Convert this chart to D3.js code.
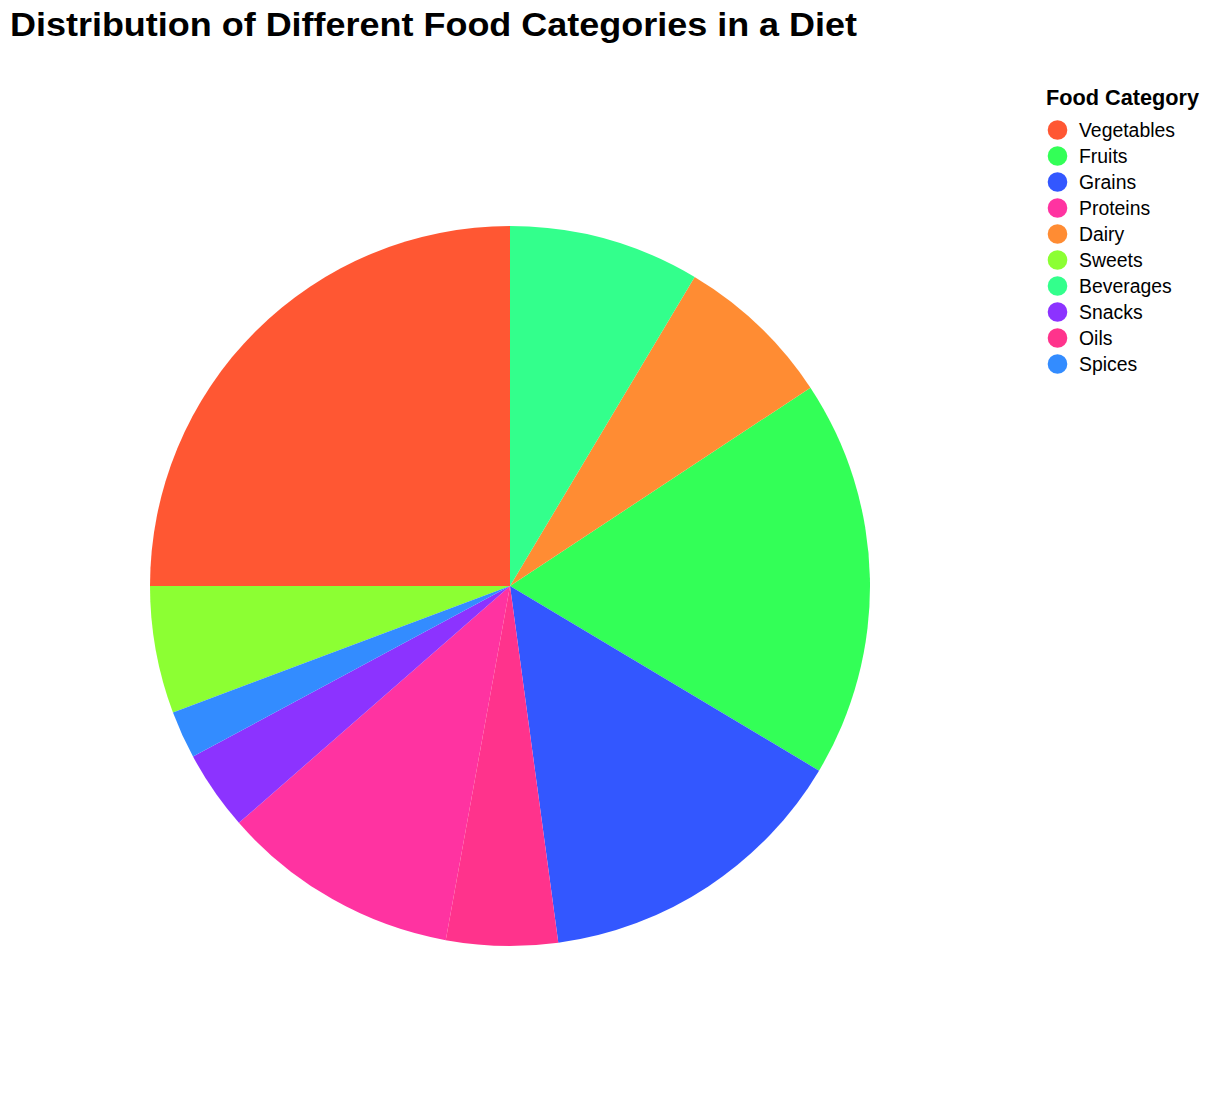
<!DOCTYPE html>
<html><head><meta charset="utf-8">
<script src="https://cdn.jsdelivr.net/npm/d3@7"></script>
<style>body{margin:0;background:#fff}</style>
</head><body>
<svg id="chart" width="1212" height="1096"></svg>
<script>
const categories = ["Vegetables","Fruits","Grains","Proteins","Dairy","Sweets","Beverages","Snacks","Oils","Spices"];
const values = [35,25,20,15,10,8,12,5,7,3];
const colors = ["#FF5733","#33FF57","#3357FF","#FF33A1","#FF8C33","#8CFF33","#33FF8C","#8C33FF","#FF338C","#338CFF"];
const titleText = "Distribution of Different Food Categories in a Diet";
const legendTitle = "Food Category";

const svg = d3.select("#chart");
const font = "'Liberation Sans', Arial, Helvetica, sans-serif";
const data = categories.map((c,i)=>({category:c, value:values[i]}));
const color = d3.scaleOrdinal().domain(categories).range(colors);

svg.append("text").attr("x",10).attr("y",36)
  .attr("font-family",font).attr("font-weight","bold").attr("font-size",33)
  .attr("textLength",847).attr("lengthAdjust","spacingAndGlyphs")
  .attr("fill","#000").text(titleText);

const cx = 510, cy = 586, r = 360;
const pie = d3.pie().value(d=>d.value).sort((a,b)=>d3.ascending(a.category,b.category)).startAngle(0).endAngle(2*Math.PI);
const arc = d3.arc().innerRadius(0).outerRadius(r);
svg.append("g").attr("transform",`translate(${cx},${cy})`)
  .selectAll("path").data(pie(data)).join("path")
  .attr("d",arc).attr("fill",d=>color(d.data.category));

const lg = svg.append("g").attr("transform","translate(1046,0)");
lg.append("text").attr("x",0).attr("y",105).attr("font-family",font).attr("font-weight","bold")
  .attr("font-size",21.7).attr("fill","#000").text(legendTitle);
const items = lg.selectAll("g.item").data(categories).join("g").attr("class","item")
  .attr("transform",(d,i)=>`translate(0,${130+26*i})`);
items.append("circle").attr("cx",11.5).attr("cy",0).attr("r",9.8).attr("fill",d=>color(d));
items.append("text").attr("x",33).attr("y",6.5).attr("font-family",font).attr("font-size",19.4)
  .attr("fill","#000").text(d=>d);
</script>
</body></html>
